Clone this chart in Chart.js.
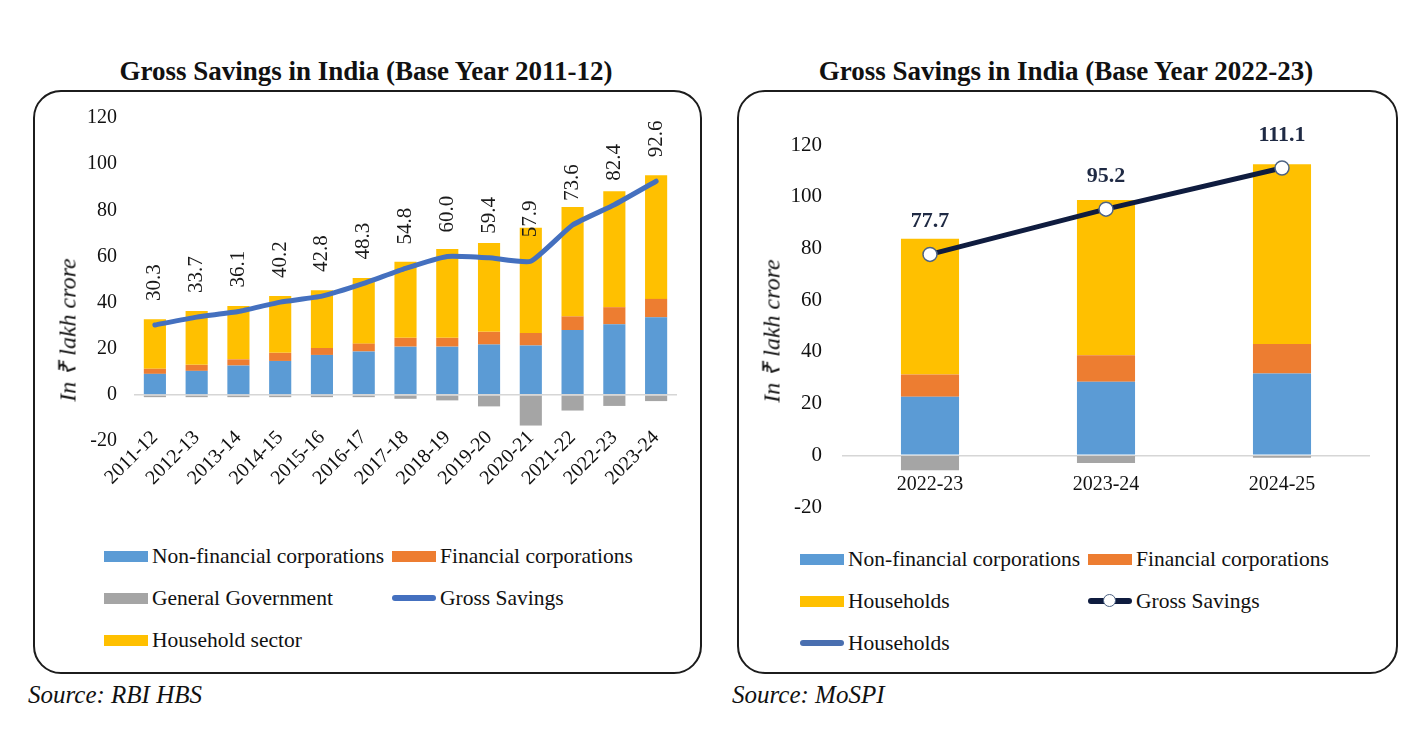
<!DOCTYPE html>
<html>
<head>
<meta charset="utf-8">
<script src="https://cdn.jsdelivr.net/npm/chart.js@4.4.1/dist/chart.umd.min.js"></script>
<style>
  body { margin: 0; width: 1416px; height: 736px; background: #fff; position: relative; overflow: hidden;
         font-family: "Liberation Serif", "Times New Roman", serif; color: #111; }
  .title { position: absolute; top: 56px; font-weight: bold; font-size: 27px; line-height: 30px; text-align: center; }
  .card { position: absolute; top: 90px; height: 580px; border: 2px solid #1c1c1c; border-radius: 28px; }
  .plot { position: absolute; top: 100px; height: 420px; }
  .ytitle { position: absolute; font-style: italic; font-size: 24px; white-space: nowrap;
            transform: translate(-50%, -50%) rotate(-90deg); }
  .legend { position: absolute; display: grid; grid-template-columns: 288px auto; font-size: 21.5px; }
  .legend div { display: flex; align-items: center; height: 42px; white-space: nowrap; }
  .sw { display: inline-block; width: 44px; margin-right: 4px; position: relative; }
  .source { position: absolute; top: 681px; font-style: italic; font-size: 25px; line-height: 28px; }
</style>
</head>
<body>

<div class="title" style="left:0;width:732px">Gross Savings in India (Base Year 2011-12)</div>
<div class="title" style="left:700px;width:732px">Gross Savings in India (Base Year 2022-23)</div>

<div class="card" style="left:33px;width:665px"></div>
<div class="card" style="left:737px;width:657px"></div>

<div class="plot" style="left:36px;width:660px"><canvas id="left"></canvas></div>
<div class="plot" style="left:740px;width:652px"><canvas id="right"></canvas></div>

<div class="ytitle" style="left:66px;top:330px">In ₹ lakh crore</div>
<div class="ytitle" style="left:770px;top:331px">In ₹ lakh crore</div>

<div class="legend" id="legendLeft" style="left:104px;top:535px"></div>
<div class="legend" id="legendRight" style="left:800px;top:538px"></div>

<div class="source" style="left:28px">Source: RBI HBS</div>
<div class="source" style="left:732px">Source: MoSPI</div>

<script>
// ---- data: base year 2011-12 (RBI HBS) ----
const yearsOld = ['2011-12', '2012-13', '2013-14', '2014-15', '2015-16', '2016-17', '2017-18',
                  '2018-19', '2019-20', '2020-21', '2021-22', '2022-23', '2023-24'];
const nfcOld = [9.1, 10.4, 12.7, 14.7, 17.3, 18.8, 20.9, 20.9, 21.8, 21.4, 28.1, 30.6, 33.6];
const fcOld = [2.2, 2.6, 2.7, 3.5, 3.0, 3.4, 3.8, 3.8, 5.5, 5.4, 5.9, 7.4, 8.0];
const govOld = [-1.0, -1.0, -1.0, -1.0, -1.0, -1.0, -1.7, -2.4, -5.0, -13.3, -6.8, -4.8, -2.7];
const hhOld = [21.5, 23.4, 23.1, 24.7, 25.0, 28.4, 33.0, 38.5, 38.5, 45.6, 47.4, 50.2, 53.6];
const grossOld = [30.3, 33.7, 36.1, 40.2, 42.8, 48.3, 54.8, 60.0, 59.4, 57.9, 73.6, 82.4, 92.6];

// ---- data: base year 2022-23 (MoSPI) ----
const yearsNew = ['2022-23', '2023-24', '2024-25'];
const nfcNew = [22.6, 28.4, 31.6];
const fcNew = [8.6, 10.3, 11.4];
const govNew = [-5.8, -3.0, -1.0];
const hhNew = [52.5, 60.0, 69.6];
const grossNew = [77.7, 95.2, 111.1];

const yTicks = [-20, 0, 20, 40, 60, 80, 100, 120];

const BLUE = '#5b9bd5', ORANGE = '#ed7d31', GREY = '#a5a5a5', GOLD = '#ffc000';
const SERIF = '"Liberation Serif", "Times New Roman", serif';

// value labels above the gross savings line
const lineLabels = {
  id: 'lineLabels',
  afterDatasetsDraw(chart, args, opts) {
    const ctx = chart.ctx;
    chart.data.datasets.forEach((ds, i) => {
      if (ds.type !== 'line' || !ds.data.length) return;
      const meta = chart.getDatasetMeta(i);
      ctx.save();
      ctx.font = opts.font;
      ctx.fillStyle = opts.color;
      ctx.textBaseline = 'middle';
      meta.data.forEach((pt, j) => {
        const text = ds.data[j].toFixed(1);
        if (opts.rotate) {
          ctx.save();
          ctx.translate(pt.x, pt.y - opts.offset);
          ctx.rotate(-Math.PI / 2);
          ctx.textAlign = 'left';
          ctx.fillText(text, 0, 0);
          ctx.restore();
        } else {
          ctx.textAlign = 'center';
          ctx.fillText(text, pt.x, pt.y - opts.offset);
        }
      });
      ctx.restore();
    });
  }
};

function zeroGrid(ctx) {
  return ctx.tick && ctx.tick.value === 0 ? '#d6d6d6' : 'rgba(0,0,0,0)';
}

function makeChart(id, cfg) {
  return new Chart(document.getElementById(id), {
    type: 'bar',
    data: { labels: cfg.labels, datasets: cfg.datasets },
    plugins: [lineLabels],
    options: {
      responsive: true,
      maintainAspectRatio: false,
      animation: false,
      layout: { padding: cfg.padding },
      plugins: {
        legend: { display: false },
        tooltip: { enabled: false },
        lineLabels: cfg.labelOpts
      },
      scales: {
        x: {
          stacked: true,
          position: { y: 0 },   // category labels hang from the zero line
          grid: { display: false },
          border: { display: false },
          ticks: {
            color: '#111',
            font: { family: SERIF, size: 20 },
            padding: cfg.xPad,
            minRotation: cfg.rot,
            maxRotation: cfg.rot,
            autoSkip: false
          },
          afterFit: (s) => { s.paddingLeft = 0; s.paddingRight = 0; }
        },
        y: {
          stacked: true,
          min: -20,
          max: 120,
          afterBuildTicks: (s) => { s.ticks = yTicks.map(v => ({ value: v })); },
          grid: { color: zeroGrid, lineWidth: 1.5, drawTicks: false },
          border: { display: false },
          ticks: {
            color: '#111',
            font: { family: SERIF, size: cfg.yFont },
            padding: cfg.yPad
          },
          afterFit: (s) => { s.width = cfg.yWidth; s.paddingTop = 0; s.paddingBottom = 0; }
        }
      }
    }
  });
}

const leftChart = makeChart('left', {
  labels: yearsOld,
  padding: { top: 18, right: 19, bottom: 79, left: 0 },
  yWidth: 98, yPad: 17, yFont: 20, xPad: 23, rot: 45,
  labelOpts: { rotate: true, offset: 24, font: '21px ' + SERIF, color: '#1a1a1a' },
  datasets: [
    { type: 'line', label: 'Gross Savings', data: grossOld, stack: 'gross', order: 0,
      borderColor: '#4470bf', borderWidth: 5, pointRadius: 0, tension: 0.15,
      borderCapStyle: 'round', borderJoinStyle: 'round', legendKind: 'line' },
    { label: 'Non-financial corporations', data: nfcOld, backgroundColor: BLUE, stack: 's', order: 1,
      categoryPercentage: 1, barPercentage: 0.53 },
    { label: 'Financial corporations', data: fcOld, backgroundColor: ORANGE, stack: 's', order: 1,
      categoryPercentage: 1, barPercentage: 0.53 },
    { label: 'General Government', data: govOld, backgroundColor: GREY, stack: 's', order: 1,
      categoryPercentage: 1, barPercentage: 0.53 },
    { label: 'Household sector', data: hhOld, backgroundColor: GOLD, stack: 's', order: 1,
      categoryPercentage: 1, barPercentage: 0.53 }
  ]
});

const rightChart = makeChart('right', {
  labels: yearsNew,
  padding: { top: 45, right: 22, bottom: 13, left: 0 },
  yWidth: 102, yPad: 20, yFont: 21, xPad: 9, rot: 0,
  labelOpts: { rotate: false, offset: 33, font: 'bold 22px ' + SERIF, color: '#1f2a44' },
  datasets: [
    { type: 'line', label: 'Gross Savings', data: grossNew, stack: 'gross', order: 0,
      borderColor: '#0f1c3f', borderWidth: 5, pointRadius: 7, pointBackgroundColor: '#fff',
      pointBorderColor: '#4d6384', pointBorderWidth: 1.5, legendKind: 'marker' },
    { type: 'line', label: 'Households', data: [], stack: 'hhline', order: 0,
      borderColor: '#4a6fb0', borderWidth: 5, legendKind: 'line' },
    { label: 'Non-financial corporations', data: nfcNew, backgroundColor: BLUE, stack: 's', order: 1,
      categoryPercentage: 1, barPercentage: 0.33 },
    { label: 'Financial corporations', data: fcNew, backgroundColor: ORANGE, stack: 's', order: 1,
      categoryPercentage: 1, barPercentage: 0.33 },
    { label: 'General Government', data: govNew, backgroundColor: GREY, stack: 's', order: 1,
      categoryPercentage: 1, barPercentage: 0.33 },
    { label: 'Households', data: hhNew, backgroundColor: GOLD, stack: 's', order: 1,
      categoryPercentage: 1, barPercentage: 0.33 }
  ]
});

// html legend laid out in two columns, built from the chart datasets
function buildLegend(chart, elId, order) {
  const el = document.getElementById(elId);
  const ds = chart.data.datasets;
  order.forEach(idx => {
    const d = ds[idx];
    const item = document.createElement('div');
    const sw = document.createElement('span');
    sw.className = 'sw';
    if (d.legendKind === 'line' || d.legendKind === 'marker') {
      sw.style.height = '6px';
      sw.style.borderRadius = '3px';
      sw.style.background = d.borderColor;
      if (d.legendKind === 'marker') {
        const dot = document.createElement('span');
        dot.style.cssText = 'position:absolute;left:15px;top:-4px;width:11px;height:11px;border-radius:50%;' +
          'background:#fff;border:1.5px solid ' + d.pointBorderColor;
        sw.appendChild(dot);
      }
    } else {
      sw.style.height = '11px';
      sw.style.background = d.backgroundColor;
    }
    item.appendChild(sw);
    item.appendChild(document.createTextNode(d.label));
    el.appendChild(item);
  });
}

buildLegend(leftChart, 'legendLeft', [1, 2, 3, 0, 4]);
buildLegend(rightChart, 'legendRight', [2, 3, 5, 0, 1]);
</script>
</body>
</html>
